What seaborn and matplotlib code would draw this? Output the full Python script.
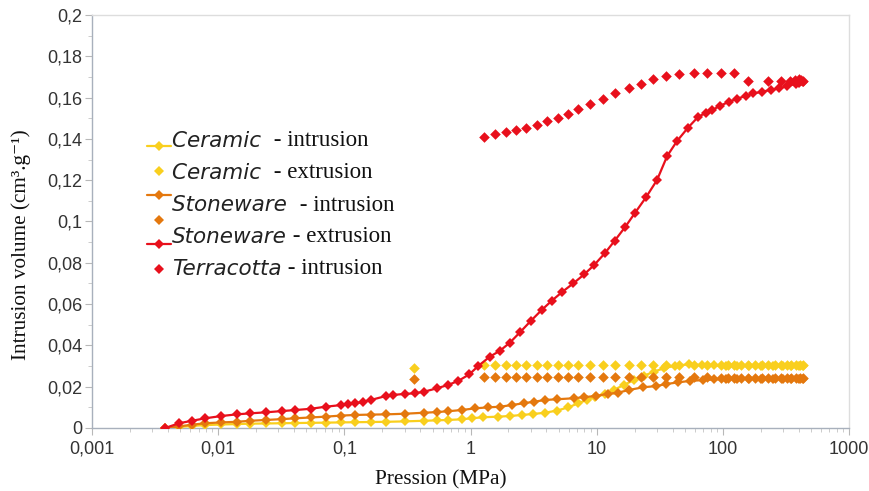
import numpy as np
import pandas as pd
import seaborn as sns
import matplotlib
matplotlib.use("Agg")
import matplotlib.pyplot as plt
from matplotlib.lines import Line2D
from matplotlib.ticker import FixedLocator, LogLocator, NullFormatter, MultipleLocator

# ---------------- data ----------------
ceramic_int_x = [0.0038, 0.0049, 0.0062, 0.0079, 0.0106, 0.014, 0.018, 0.024, 0.032, 0.041, 0.054, 0.071,
                 0.094, 0.121, 0.163, 0.214, 0.30, 0.43, 0.54, 0.66, 0.85, 1.02, 1.26, 1.66, 2.05, 2.54,
                 3.15, 3.89, 4.82, 5.97, 7.17, 8.35, 9.73, 11.7, 13.6, 16.4, 19.7, 23.6, 28.4, 34.0, 42.1,
                 53.8, 68.6, 85, 105, 130, 160, 200, 250, 300, 350, 400, 430]
ceramic_int_y = [0, 0.0005, 0.001, 0.0014, 0.0017, 0.0019, 0.0021, 0.0022, 0.0023, 0.0024, 0.0025, 0.0026,
                 0.0027, 0.0028, 0.0029, 0.003, 0.0032, 0.0035, 0.0037, 0.0039, 0.0042, 0.0047, 0.0052,
                 0.0055, 0.0058, 0.0063, 0.0068, 0.0074, 0.0084, 0.0100, 0.0120, 0.0136, 0.0149, 0.0165,
                 0.0184, 0.0208, 0.0232, 0.0252, 0.0273, 0.0289, 0.0302, 0.0308, 0.0305, 0.0303, 0.0302,
                 0.0302, 0.0301, 0.0301, 0.0301, 0.0301, 0.0301, 0.0301, 0.0301]

stoneware_int_x = [0.0038, 0.0049, 0.0062, 0.0079, 0.0106, 0.014, 0.018, 0.024, 0.032, 0.041, 0.054, 0.071,
                   0.094, 0.121, 0.163, 0.214, 0.30, 0.43, 0.54, 0.66, 0.85, 1.08, 1.38, 1.71, 2.12, 2.64,
                   3.17, 3.93, 4.82, 6.56, 7.89, 9.80, 12.2, 14.7, 18.0, 23.2, 29.6, 35.7, 44.1, 54.9, 70.1,
                   85, 105, 130, 160, 200, 250, 300, 350, 400, 430]
stoneware_int_y = [0, 0.0008, 0.0016, 0.0023, 0.0027, 0.003, 0.0035, 0.0039, 0.0043, 0.0047, 0.0051, 0.0055,
                   0.006, 0.0063, 0.0065, 0.0066, 0.0069, 0.0074, 0.0077, 0.0081, 0.0087, 0.0095, 0.0100,
                   0.0103, 0.0111, 0.0120, 0.0127, 0.0136, 0.0139, 0.0144, 0.0149, 0.0155, 0.0165, 0.0171,
                   0.0184, 0.0197, 0.0203, 0.0213, 0.0221, 0.0228, 0.0232, 0.0235, 0.0237, 0.0238, 0.0238,
                   0.0238, 0.0238, 0.0238, 0.0238, 0.0238, 0.0238]

terracotta_int_x = [0.0038, 0.0049, 0.0062, 0.0079, 0.0106, 0.014, 0.018, 0.024, 0.032, 0.041, 0.054, 0.071,
                    0.094, 0.107, 0.121, 0.140, 0.163, 0.214, 0.242, 0.30, 0.36, 0.43, 0.54, 0.66, 0.80, 0.98,
                    1.15, 1.42, 1.71, 2.05, 2.49, 3.01, 3.66, 4.40, 5.36, 6.55, 7.96, 9.55, 11.6, 13.9, 16.9,
                    20.2, 24.6, 30.1, 36.2, 43.4, 52.9, 63.8, 73, 82.5, 95, 112, 130, 152, 175, 206, 240, 280,
                    320, 377, 405, 429]
terracotta_int_y = [0, 0.0023, 0.0035, 0.0047, 0.0058, 0.0066, 0.0071, 0.0076, 0.0082, 0.0087, 0.0093, 0.0103,
                    0.0111, 0.0114, 0.0119, 0.0127, 0.0136, 0.0155, 0.0160, 0.0165, 0.0168, 0.0176, 0.0192,
                    0.0208, 0.0228, 0.026, 0.030, 0.0345, 0.0374, 0.0413, 0.0466, 0.0519, 0.0571, 0.0616,
                    0.0660, 0.0701, 0.0744, 0.0789, 0.0846, 0.0907, 0.0975, 0.1043, 0.1117, 0.1201, 0.1317,
                    0.1390, 0.1454, 0.1507, 0.1525, 0.154, 0.156, 0.158, 0.1595, 0.1608, 0.162, 0.1629, 0.1637,
                    0.1645, 0.1655, 0.1666, 0.167, 0.1677]

extrusion_x = [1.28, 1.56, 1.90, 2.28, 2.75, 3.34, 4.07, 4.91, 5.90, 7.08, 8.91, 11.2, 14.0, 17.9, 22.6,
               28.0, 35.5, 45.3, 59.0, 75.3, 96.0, 123, 157, 226, 288, 340, 370, 400, 420, 430]
terracotta_ext_y = [0.1411, 0.1422, 0.1432, 0.1443, 0.1454, 0.1467, 0.1485, 0.1502, 0.1522, 0.1543, 0.1569,
                    0.1592, 0.1621, 0.1645, 0.1668, 0.1688, 0.1704, 0.1714, 0.1720, 0.1720, 0.1720, 0.1717,
                    0.1682, 0.1682, 0.1682, 0.168, 0.1685, 0.169, 0.1685, 0.168]

ceramic_ext_x = [0.354, 1.28, 1.56, 1.90, 2.28, 2.75, 3.34, 4.07, 4.91, 5.90, 7.08, 8.91, 11.2, 14.0, 17.9,
                 22.6, 28.0, 35.5, 45.3, 59.0, 75.3, 96.0, 110, 123, 140, 157, 180, 205, 226, 260, 288, 320,
                 350, 380, 410, 430]
ceramic_ext_y = [0.0292, 0.0306, 0.0306, 0.0306, 0.0306, 0.0306, 0.0306, 0.0306, 0.0306, 0.0306, 0.0306,
                 0.0306, 0.0306, 0.0306, 0.0306, 0.0306, 0.0306, 0.0306, 0.0306, 0.0306, 0.0306, 0.0305,
                 0.0305, 0.0305, 0.0304, 0.0304, 0.0304, 0.0303, 0.0303, 0.0303, 0.0303, 0.0303, 0.0303,
                 0.0303, 0.0303, 0.0303]
stoneware_ext_x = ceramic_ext_x
stoneware_ext_y = [0.0237, 0.0246, 0.0246, 0.0246, 0.0246, 0.0246, 0.0246, 0.0246, 0.0246, 0.0246, 0.0246,
                   0.0246, 0.0246, 0.0246, 0.0246, 0.0246, 0.0246, 0.0246, 0.0245, 0.0245, 0.0245, 0.0244,
                   0.0244, 0.0243, 0.0242, 0.0242, 0.0241, 0.0240, 0.0240, 0.0240, 0.0240, 0.0240, 0.0240,
                   0.0240, 0.0240, 0.0240]

x_ticks = [0.001, 0.01, 0.1, 1, 10, 100, 1000]
x_tick_labels = ["0,001", "0,01", "0,1", "1", "10", "100", "1000"]
y_ticks = [0, 0.02, 0.04, 0.06, 0.08, 0.1, 0.12, 0.14, 0.16, 0.18, 0.2]
y_tick_labels = ["0", "0,02", "0,04", "0,06", "0,08", "0,1", "0,12", "0,14", "0,16", "0,18", "0,2"]

legend_materials = ["Ceramic ", "Ceramic ", "Stoneware ", "Stoneware", "Terracotta"]
legend_suffixes = [" - intrusion", " - extrusion", " - intrusion", " - extrusion", " - intrusion"]

YELLOW = "#f9cf1e"
ORANGE = "#e4780e"
RED = "#e8101c"

# ---------------- figure ----------------
sns.set_theme(style="white")
plt.rcParams["font.family"] = ["Liberation Sans", "DejaVu Sans"]

W, H = 870, 491
fig = plt.figure(figsize=(W / 100, H / 100), dpi=100)
ax = fig.add_axes([92 / W, 1 - 428 / H, (849 - 92) / W, (428 - 15) / H])

ms = 5.4
lw = 1.6

def line(xs, ys, color):
    df = pd.DataFrame({"x": xs, "y": ys})
    sns.lineplot(data=df, x="x", y="y", ax=ax, color=color, marker="D", markersize=ms,
                 markeredgewidth=0, linewidth=lw, sort=False, estimator=None, zorder=3)

def dots(xs, ys, color):
    df = pd.DataFrame({"x": xs, "y": ys})
    sns.scatterplot(data=df, x="x", y="y", ax=ax, color=color, marker="D", s=ms ** 2,
                    linewidth=0, zorder=3)

line(ceramic_int_x, ceramic_int_y, YELLOW)
dots(ceramic_ext_x, ceramic_ext_y, YELLOW)
line(stoneware_int_x, stoneware_int_y, ORANGE)
dots(stoneware_ext_x, stoneware_ext_y, ORANGE)
line(terracotta_int_x, terracotta_int_y, RED)
dots(extrusion_x, terracotta_ext_y, RED)

ax.set_xscale("log")
ax.set_xlim(0.001, 1000)
ax.set_ylim(0, 0.2)

ax.xaxis.set_major_locator(FixedLocator(x_ticks))
ax.set_xticklabels(x_tick_labels)
ax.xaxis.set_minor_locator(LogLocator(base=10, subs=np.arange(2, 10)))
ax.xaxis.set_minor_formatter(NullFormatter())
ax.yaxis.set_major_locator(FixedLocator(y_ticks))
ax.set_yticklabels(y_tick_labels)
ax.yaxis.set_minor_locator(MultipleLocator(0.01))

tick_col = "#b8b8b8"
ax.tick_params(axis="both", which="major", direction="out", length=5, width=0.8, color=tick_col,
               labelsize=13, labelcolor="#333333")
ax.tick_params(axis="x", which="major", pad=4)
ax.tick_params(axis="y", which="major", pad=2)
ax.tick_params(axis="both", which="minor", direction="out", length=3, width=0.7, color="#cccccc")
ax.tick_params(axis="x", which="both", bottom=True)
ax.tick_params(axis="y", which="both", left=True)

for side in ["left", "bottom"]:
    ax.spines[side].set_color("#a8b0bc")
    ax.spines[side].set_linewidth(1.0)
for side in ["top", "right"]:
    ax.spines[side].set_color("#dddddd")
    ax.spines[side].set_linewidth(1.0)

serif = ["Liberation Serif", "DejaVu Serif"]
ax.set_xlabel("Pression (MPa)", family=serif, fontsize=15.3, color="#111111")
ax.set_ylabel("Intrusion volume (cm³.g⁻¹)", family=serif, fontsize=15.3, color="#111111")
ax.xaxis.set_label_coords((441 - 92) / 757, (428 - 470) / 413)
ax.yaxis.set_label_coords((31 - 92) / 757, (428 - 245) / 413)

# legend handles (markers)
handles = [
    Line2D([], [], color=YELLOW, marker="D", markersize=ms, markeredgewidth=0, linewidth=lw),
    Line2D([], [], color=YELLOW, marker="D", markersize=ms, markeredgewidth=0, linestyle="none"),
    Line2D([], [], color=ORANGE, marker="D", markersize=ms, markeredgewidth=0, linewidth=lw),
    Line2D([], [], color=ORANGE, marker="D", markersize=ms, markeredgewidth=0, linestyle="none"),
    Line2D([], [], color=RED, marker="D", markersize=ms, markeredgewidth=0, linewidth=lw),
    Line2D([], [], color=RED, marker="D", markersize=ms, markeredgewidth=0, linestyle="none"),
]
leg = ax.legend(handles, [""] * 6, loc="upper left", bbox_to_anchor=(147 / W, 1 - 140 / H),
                bbox_transform=fig.transFigure, frameon=False, fontsize=10, handlelength=1.75,
                handletextpad=0, labelspacing=0.76, borderpad=0, borderaxespad=0)

# legend labels (mixed fonts)
label_y = [141, 173, 205, 237, 269]
for mat, suf, yp in zip(legend_materials, legend_suffixes, label_y):
    t1 = fig.text(172 / W, 1 - yp / H, mat, family=["DejaVu Sans"], style="oblique",
                  fontsize=15.5, color="#222222", va="center", ha="left")
    ax.annotate(suf, xy=(1, 0.5), xycoords=t1, va="center", ha="left", family=serif,
                fontsize=16.5, color="#111111")

fig.savefig("out.png", dpi=100)
